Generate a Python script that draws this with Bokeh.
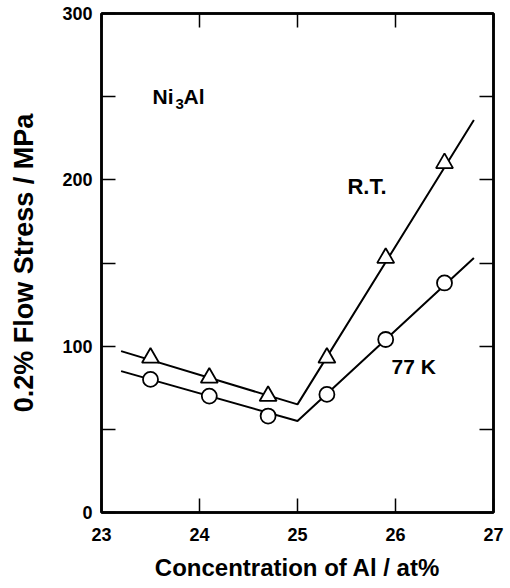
from bokeh.plotting import figure
from bokeh.models import Range1d, LinearAxis, FixedTicker
from bokeh.core.properties import value
from bokeh.embed import file_html
from bokeh.resources import INLINE

# Data points
conc = [23.5, 24.1, 24.7, 25.3, 25.9, 26.5]
rt_stress = [93, 81, 70, 93, 153, 210]
k77_stress = [80, 70, 58, 71, 104, 138]

# Fitted lines (vertices)
rt_line_x = [23.2, 25.0, 26.8]
rt_line_y = [97, 65, 236]
k77_line_x = [23.2, 25.0, 26.8]
k77_line_y = [85, 55, 153]

x_ticks = [23, 24, 25, 26, 27]
y_ticks = [0, 100, 200, 300]
y_minor = [50, 150, 250]

FONT = "Liberation Sans"

p = figure(width=510, height=588, output_backend="svg", toolbar_location=None,
           x_range=Range1d(23, 27), y_range=Range1d(0, 300),
           frame_width=392, frame_height=499,
           min_border_left=101, min_border_right=17, min_border_top=13, min_border_bottom=76)
p.xgrid.visible = False
p.ygrid.visible = False
p.outline_line_color = "black"
p.outline_line_width = 2.5
p.background_fill_color = "white"
p.border_fill_color = "white"

def style_axis(ax, ticks, minor, labels=True):
    ax.ticker = FixedTicker(ticks=ticks, minor_ticks=minor)
    ax.major_tick_in = 14
    ax.major_tick_out = 0
    ax.minor_tick_in = 14
    ax.minor_tick_out = 0
    ax.major_tick_line_width = 1.5
    ax.minor_tick_line_width = 1.5
    ax.major_tick_line_color = "black"
    ax.minor_tick_line_color = "black"
    ax.axis_line_width = 2.5
    ax.axis_line_color = "black"
    ax.major_label_text_font = FONT
    ax.major_label_text_font_style = "bold"
    ax.major_label_text_font_size = "18px"
    ax.major_label_text_color = "black"
    ax.axis_label_text_color = "black"
    if not labels:
        ax.major_label_overrides = {t: "" for t in ticks}
        ax.major_label_standoff = 0

style_axis(p.xaxis[0], x_ticks, [])
p.xaxis[0].major_label_standoff = 15
p.xaxis[0].axis_label = "Concentration of Al / at%"
p.xaxis[0].axis_label_text_font = FONT
p.xaxis[0].axis_label_text_font_style = "bold"
p.xaxis[0].axis_label_text_font_size = "24px"
p.xaxis[0].axis_label_standoff = 10

style_axis(p.yaxis[0], y_ticks, y_minor)
p.yaxis[0].major_label_standoff = 9
p.yaxis[0].axis_label = "0.2% Flow Stress / MPa"
p.yaxis[0].axis_label_text_font = FONT
p.yaxis[0].axis_label_text_font_style = "bold"
p.yaxis[0].axis_label_text_font_size = "27px"
p.yaxis[0].axis_label_standoff = 20

top = LinearAxis()
style_axis(top, x_ticks, [], labels=False)
p.add_layout(top, "above")
right = LinearAxis()
style_axis(right, y_ticks, y_minor, labels=False)
p.add_layout(right, "right")

# lines
p.line(rt_line_x, rt_line_y, line_color="black", line_width=2)
p.line(k77_line_x, k77_line_y, line_color="black", line_width=2)

# markers
p.scatter(conc, rt_stress, marker="triangle", size=17, fill_color="white",
          line_color="black", line_width=1.8)
p.scatter(conc, k77_stress, marker="circle", size=15, fill_color="white",
          line_color="black", line_width=1.8)

# annotations
p.text(x=[23.52], y=[250], text=["Ni"], text_font=value(FONT), text_font_style="bold",
       text_font_size="21px", text_baseline="middle", text_align="left", text_color="black")
p.text(x=[23.52], y=[250], text=["3"], x_offset=23, y_offset=7, text_font=value(FONT),
       text_font_style="bold", text_font_size="15px", text_baseline="middle",
       text_align="left", text_color="black")
p.text(x=[23.52], y=[250], text=["Al"], x_offset=31, text_font=value(FONT), text_font_style="bold",
       text_font_size="21px", text_baseline="middle", text_align="left", text_color="black")
p.text(x=[25.51], y=[196], text=["R.T."], text_font=value(FONT), text_font_style="bold",
       text_font_size="22px", text_baseline="middle", text_align="left", text_color="black")
p.text(x=[25.96], y=[87.5], text=["77 K"], text_font=value(FONT), text_font_style="bold",
       text_font_size="21px", text_baseline="middle", text_align="left", text_color="black")

open("out.html", "w").write(file_html(p, INLINE))
